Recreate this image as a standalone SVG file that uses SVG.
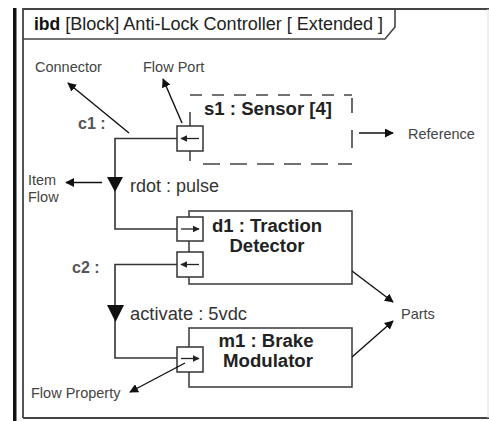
<svg xmlns="http://www.w3.org/2000/svg" width="489" height="421" viewBox="0 0 489 421">
<defs>
<marker id="ah" viewBox="0 0 10 10" refX="9" refY="5" markerWidth="9" markerHeight="9" markerUnits="userSpaceOnUse" orient="auto">
<path d="M0,0 L10,5 L0,10 z" fill="#111"/>
</marker>
<marker id="ps" viewBox="0 0 10 10" refX="9" refY="5" markerWidth="7" markerHeight="7" markerUnits="userSpaceOnUse" orient="auto">
<path d="M0,0 L10,5 L0,10 z" fill="#222"/>
</marker>
<style>
.lbl{font-family:"Liberation Sans",Arial,sans-serif;font-size:14.5px;fill:#444}
.flow{font-family:"Liberation Sans",Arial,sans-serif;font-size:17.5px;fill:#333}
.cn{font-family:"Liberation Sans",Arial,sans-serif;font-size:16px;fill:#555;font-weight:bold}
.nm{font-family:"Liberation Sans",Arial,sans-serif;font-size:17.5px;font-weight:bold;fill:#222;text-anchor:middle}
.box{fill:#fff;stroke:#444;stroke-width:1.6}
.port{fill:#fff;stroke:#333;stroke-width:1.5}
.parr{stroke:#222;stroke-width:1.3;fill:none;marker-end:url(#ps)}
.ptr{stroke:#111;stroke-width:1.4;fill:none;marker-end:url(#ah)}
.conn{stroke:#333;stroke-width:1.6;fill:none}
.dash{stroke:#444;stroke-width:1.6;fill:none}
</style>
</defs>
<rect width="489" height="421" fill="#fff"/>
<g id="frame">
<rect x="13" y="8" width="3.5" height="413" fill="#111"/>
<path d="M23,418 V9 H489" fill="none" stroke="#444" stroke-width="1.8"/>
<path d="M23,418 H489" fill="none" stroke="#444" stroke-width="1.8"/>
<path d="M23,39 H385 L395,27 V9" fill="none" stroke="#444" stroke-width="1.6"/>
<line x1="488" y1="9" x2="488" y2="418" stroke="#ddd" stroke-width="1"/>
<text x="34" y="30" font-family="'Liberation Sans',Arial,sans-serif" font-size="17.5" fill="#222"><tspan font-weight="bold" fill="#111">ibd</tspan> <tspan textLength="318" lengthAdjust="spacingAndGlyphs">[Block] Anti-Lock Controller [ Extended ]</tspan></text>
</g>
<g id="s1">
<line class="dash" x1="190" y1="95" x2="352" y2="95" stroke-dasharray="12 10"/>
<line class="dash" x1="203" y1="164" x2="352" y2="164" stroke-dasharray="17 10"/>
<line class="dash" x1="352" y1="98" x2="352" y2="113"/>
<line class="dash" x1="352" y1="130" x2="352" y2="148"/>
<line class="dash" x1="190" y1="112" x2="190" y2="161"/>
<text class="nm" x="268" y="115" textLength="128" lengthAdjust="spacingAndGlyphs">s1 : Sensor [4]</text>
<rect class="port" x="177" y="126" width="26" height="25"/>
<line class="parr" x1="199" y1="138.5" x2="181" y2="138.5"/>
</g>
<g id="d1">
<rect class="box" x="189" y="211" width="163" height="73"/>
<text class="nm" x="267" y="232" textLength="110" lengthAdjust="spacingAndGlyphs">d1 : Traction</text>
<text class="nm" x="267" y="252" textLength="75" lengthAdjust="spacingAndGlyphs">Detector</text>
<rect class="port" x="177" y="217" width="26" height="24"/>
<line class="parr" x1="181" y1="229" x2="199" y2="229"/>
<rect class="port" x="177" y="252" width="26" height="25"/>
<line class="parr" x1="199" y1="264.5" x2="181" y2="264.5"/>
</g>
<g id="m1">
<rect class="box" x="189" y="328" width="163" height="59"/>
<text class="nm" x="266" y="347" textLength="95" lengthAdjust="spacingAndGlyphs">m1 : Brake</text>
<text class="nm" x="268" y="367" textLength="90" lengthAdjust="spacingAndGlyphs">Modulator</text>
<rect class="port" x="177" y="347" width="26" height="25"/>
<line class="parr" x1="181" y1="358.5" x2="199" y2="358.5"/>
</g>
<g id="connectors">
<polyline class="conn" points="177,138.5 115,138.5 115,229 177,229"/>
<polygon points="107,177 123,177 115,192" fill="#111"/>
<text class="cn" x="78" y="129">c1 :</text>
<text class="flow" x="130" y="192" textLength="89" lengthAdjust="spacingAndGlyphs">rdot : pulse</text>
<polyline class="conn" points="177,264.5 115,264.5 115,358 177,358"/>
<polygon points="107,305 124,305 115.5,322" fill="#111"/>
<text class="cn" x="72" y="273">c2 :</text>
<text class="flow" x="130" y="320" textLength="117" lengthAdjust="spacingAndGlyphs">activate : 5vdc</text>
</g>
<g id="annotations">
<text class="lbl" x="35" y="72">Connector</text>
<line class="ptr" x1="129" y1="133" x2="68" y2="83"/>
<text class="lbl" x="143" y="72">Flow Port</text>
<line class="ptr" x1="182" y1="123" x2="163" y2="79"/>
<text class="lbl" x="408" y="139">Reference</text>
<line class="ptr" x1="359" y1="133" x2="393" y2="133"/>
<text class="lbl" x="28" y="185">Item</text>
<text class="lbl" x="28" y="202">Flow</text>
<line class="ptr" x1="102" y1="182.5" x2="66" y2="182.5"/>
<text class="lbl" x="401" y="319">Parts</text>
<line class="ptr" x1="352" y1="271" x2="393" y2="302"/>
<line class="ptr" x1="352" y1="357" x2="393" y2="321"/>
<text class="lbl" x="31" y="398">Flow Property</text>
<line class="ptr" x1="185" y1="363" x2="130" y2="392"/>
</g>
</svg>
